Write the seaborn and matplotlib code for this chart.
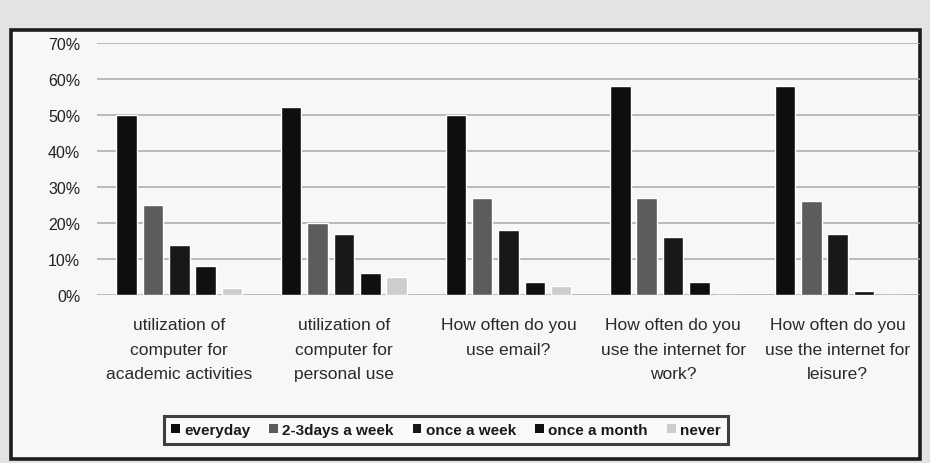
import matplotlib
matplotlib.use("Agg")
import matplotlib.pyplot as plt
from matplotlib.patches import Rectangle
from matplotlib.ticker import PercentFormatter
import pandas as pd
import seaborn as sns

questions = [
    "utilization of\ncomputer for\nacademic activities",
    "utilization of\ncomputer for\npersonal use",
    "How often do you\nuse email?",
    "How often do you\nuse the internet for\nwork?",
    "How often do you\nuse the internet for\nleisure?",
]
frequencies = ["everyday", "2-3days a week", "once a week", "once a month", "never"]

everyday = [50, 52, 50, 58, 58]
two_three_days = [25, 20, 27, 27, 26]
once_a_week = [14, 17, 18, 16, 17]
once_a_month = [8, 6, 3.5, 3.5, 1]
never = [2, 5, 2.5, 0, 0]

bar_colors = ["#0e0e0e", "#5c5c5c", "#181818", "#101010", "#cdcdcd"]

series = [everyday, two_three_days, once_a_week, once_a_month, never]
rows = []
for freq, values in zip(frequencies, series):
    for q, v in zip(questions, values):
        rows.append({"question": q, "frequency": freq, "share": v})
df = pd.DataFrame(rows)

sns.set_theme(style="white")
plt.rcParams["font.family"] = ["Liberation Sans", "DejaVu Sans"]

fig = plt.figure(figsize=(9.3, 4.64), dpi=100, facecolor="#e3e3e3")

# framed panel holding the chart
fig.patches.append(Rectangle((11 / 930, 1 - 460 / 464), (920 - 11) / 930, (460 - 31) / 464,
                             transform=fig.transFigure, facecolor="#f7f7f7",
                             edgecolor="#1c1c1c", linewidth=2.6, zorder=-5))

ax = fig.add_axes([97 / 930, (464 - 296) / 464, (920 - 97) / 930, (296 - 43.5) / 464])
ax.set_facecolor("none")

sns.barplot(data=df, x="question", y="share", hue="frequency", order=questions,
            hue_order=frequencies, palette=bar_colors, width=0.8, gap=0.22,
            saturation=1, ax=ax, legend=False, zorder=3)

ax.set_ylim(0, 70)
ax.set_yticks(range(0, 71, 10))
ax.yaxis.set_major_formatter(PercentFormatter(decimals=0))
ax.grid(axis="y", color="#a8a8a8", linewidth=1.1, zorder=0)
ax.set_axisbelow(True)
for s in ax.spines.values():
    s.set_visible(False)
ax.tick_params(axis="both", length=0)
ax.tick_params(axis="y", labelsize=11.5, labelcolor="#222222", pad=12)
ax.tick_params(axis="x", labelsize=12.5, labelcolor="#2a2a2a", pad=16)
for lab in ax.get_xticklabels():
    lab.set_linespacing(1.8)
    lab.set_va("top")
ax.set_xlabel("")
ax.set_ylabel("")
ax.set_xlim(-0.5, 4.5)

handles = [Rectangle((0, 0), 1, 1, facecolor=c, edgecolor="none") for c in bar_colors]
leg = fig.legend(handles, frequencies, loc="center", bbox_to_anchor=(446 / 930, 1 - 431 / 464),
                 ncol=5, frameon=True, fancybox=False, handlelength=0.55, handleheight=0.55,
                 handletextpad=0.3, columnspacing=1.25, borderpad=0.45,
                 prop={"size": 11, "weight": "bold"})
leg.get_frame().set_edgecolor("#111111")
leg.get_frame().set_linewidth(2.2)
leg.get_frame().set_facecolor("#fbfbfb")
for t in leg.get_texts():
    t.set_color("#1a1a1a")

fig.savefig("out.png", dpi=100, facecolor=fig.get_facecolor())
